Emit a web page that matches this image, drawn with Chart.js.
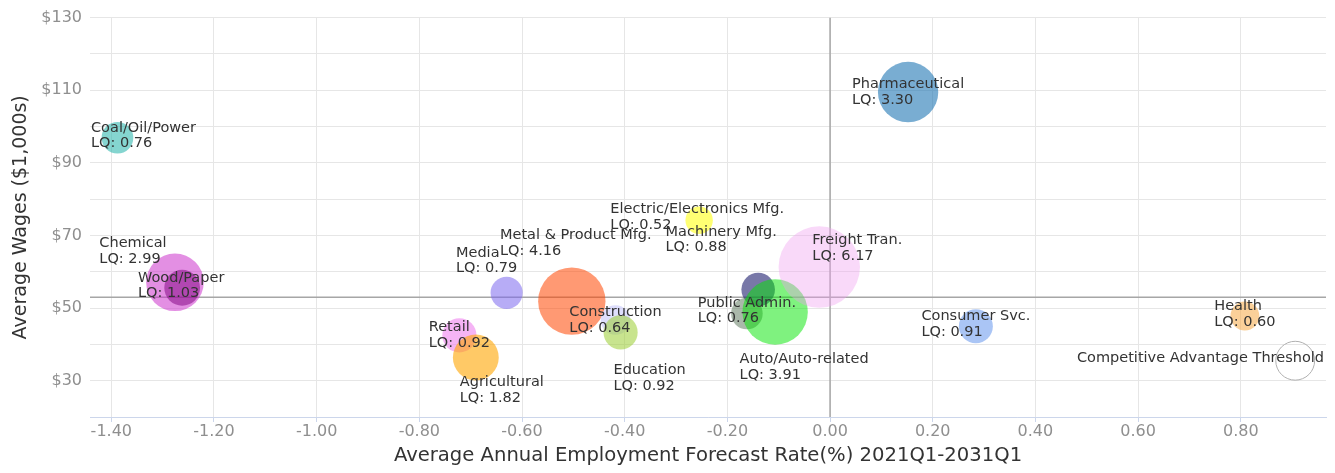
<!DOCTYPE html>
<html>
<head>
<meta charset="utf-8">
<script src="https://cdn.jsdelivr.net/npm/chart.js@4.4.0/dist/chart.umd.min.js"></script>
<style>
    html, body { margin: 0; padding: 0; background: #fff; }
    #wrap { width: 1335px; height: 473px; }
</style>
</head>
<body>
<div id="wrap"><canvas id="bubbleChart"></canvas></div>
<script>
// --- DATA ---
const industries = [
    'Coal/Oil/Power', 'Pharmaceutical', 'Chemical', 'Wood/Paper', 'Retail', 'Agricultural',
    'Media', 'Metal & Product Mfg.', 'Construction', 'Education', 'Electric/Electronics Mfg.',
    'Machinery Mfg.', 'Public Admin.', 'Auto/Auto-related', 'Freight Tran.', 'Consumer Svc.', 'Health'
];
const growthRate = [-1.388, 0.152, -1.276, -1.262, -0.722, -0.690, -0.630, -0.503, -0.418, -0.408, -0.255, -0.140, -0.162, -0.107, -0.021, 0.284, 0.808];
const avgWage = [96.9, 109.5, 57.1, 55.6, 42.5, 36.4, 54.2, 51.9, 46.7, 43.3, 74.2, 55.1, 48.5, 48.9, 61.3, 45.0, 47.8];
const lq = [0.76, 3.30, 2.99, 1.03, 0.92, 1.82, 0.79, 4.16, 0.64, 0.92, 0.52, 0.88, 0.76, 3.91, 6.17, 0.91, 0.60];

// the legend-like "threshold" bubble and the two reference lines
const thresholdName = 'Competitive Advantage Threshold';
const thresholdPoint = { x: 0.906, y: 35.5, z: 1.25 };
const thresholdGrowth = 0;
const thresholdWage = 53.0;

// axes
const xTicks = [-1.4, -1.2, -1.0, -0.8, -0.6, -0.4, -0.2, 0, 0.2, 0.4, 0.6, 0.8];
const yTicks = [30, 50, 70, 90, 110, 130];
const xMin = -1.4415, xMax = 0.966;
const yMin = 20, yMax = 130;

// --- STYLE ---
const bubbleColors = [
    'rgba(32, 178, 170, 0.55)',  // coal
    'rgba(31, 119, 180, 0.6)',   // pharma
    'rgba(204, 51, 204, 0.55)',  // chemical
    'rgba(128, 0, 128, 0.5)',    // wood
    'rgba(238, 130, 238, 0.6)',  // retail
    'rgba(255, 165, 0, 0.6)',    // agricultural
    'rgba(123, 104, 238, 0.55)', // media
    'rgba(255, 69, 0, 0.55)',    // metal
    'rgba(200, 200, 250, 0.6)',  // construction
    'rgba(154, 205, 50, 0.55)',  // education
    'rgba(255, 255, 0, 0.55)',   // electric
    'rgba(30, 30, 110, 0.6)',    // machinery
    'rgba(100, 125, 100, 0.55)', // public admin
    'rgba(0, 230, 0, 0.5)',      // auto
    'rgba(240, 160, 240, 0.4)',  // freight
    'rgba(100, 149, 237, 0.55)', // consumer
    'rgba(245, 170, 70, 0.55)'   // health
];
// pixel nudges for labels that were moved off their bubble
const labelNudge = [
    [0, -2], [0, 0], [-42, -31], [-1, -2], [0, 0], [26, 33], [-20, -32], [4, -58], [0, 0],
    [29, 46], [-2, -3], [-37, -50], [0, -3], [29, 55], [38, -19], [0, -2], [0, -2]
];

const FONT = "'DejaVu Sans', Verdana, sans-serif";
const LABEL_FONT = '14.5px ' + FONT;
const LINE_H = 15.5;

// bubble size by area, like minSize / maxSize
const minR = 13.7, maxR = 40.7;
const zMin = Math.min(...lq), zMax = Math.max(...lq);
function bubbleRadius(z) {
    const pos = (z - zMin) / (zMax - zMin);
    return Math.sqrt(minR * minR + pos * (maxR * maxR - minR * minR));
}

// --- LABEL PLUGIN ---
function drawLabel(ctx, area, lines, cx, cy) {
    const w = Math.max(...lines.map(l => ctx.measureText(l).width));
    let left = cx - w / 2;
    left = Math.max(area.left + 1, Math.min(left, area.right - 2 - w));
    const top = cy - LINE_H * lines.length / 2;
    lines.forEach((l, i) => ctx.fillText(l, left, top + LINE_H * (i + 0.5)));
}

const bubbleLabels = {
    id: 'bubbleLabels',
    afterDatasetsDraw(chart) {
        const { ctx, chartArea } = chart;
        ctx.save();
        ctx.font = LABEL_FONT;
        ctx.fillStyle = '#333333';
        ctx.textAlign = 'left';
        ctx.textBaseline = 'middle';

        chart.getDatasetMeta(0).data.forEach((el, i) => {
            const lines = [industries[i], 'LQ: ' + lq[i].toFixed(2)];
            drawLabel(ctx, chartArea, lines, el.x + labelNudge[i][0], el.y + labelNudge[i][1]);
        });
        const t = chart.getDatasetMeta(1).data[0];
        drawLabel(ctx, chartArea, [thresholdName], t.x, t.y - 2);
        ctx.restore();
    }
};

// --- CHART ---
const industryPoints = industries.map((name, i) => ({
    x: growthRate[i], y: avgWage[i], r: bubbleRadius(lq[i])
}));

new Chart(document.getElementById('bubbleChart'), {
    type: 'bubble',
    data: {
        datasets: [{
            label: 'Industries',
            data: industryPoints,
            backgroundColor: bubbleColors,
            borderWidth: 0,
            order: 1
        }, {
            label: thresholdName,
            data: [{ x: thresholdPoint.x, y: thresholdPoint.y, r: bubbleRadius(thresholdPoint.z) }],
            backgroundColor: 'rgba(255, 255, 255, 0)',
            borderColor: '#b0b0b0',
            borderWidth: 1,
            order: 1
        }, {
            type: 'line',
            label: 'Growth threshold',
            data: [{ x: thresholdGrowth, y: yMin }, { x: thresholdGrowth, y: yMax }],
            borderColor: '#a6a6a6',
            borderWidth: 1.5,
            pointRadius: 0,
            order: 2
        }, {
            type: 'line',
            label: 'Wage threshold',
            data: [{ x: xMin, y: thresholdWage }, { x: xMax, y: thresholdWage }],
            borderColor: '#a6a6a6',
            borderWidth: 1.5,
            pointRadius: 0,
            order: 2
        }]
    },
    options: {
        responsive: true,
        maintainAspectRatio: false,
        animation: false,
        events: [],
        // no extra room for the bubbles' radius, the plot area is fixed
        layout: { autoPadding: false, padding: { top: 16, right: 9, left: 0, bottom: 0 } },
        scales: {
            x: {
                type: 'linear',
                min: xMin,
                max: xMax,
                afterBuildTicks: s => { s.ticks = xTicks.map(v => ({ value: v })); },
                afterFit: s => { s.height = 56; },
                grid: { color: '#e6e6e6', tickColor: '#ccd6eb', tickLength: 5 },
                border: { color: '#ccd6eb', width: 1 },
                ticks: {
                    padding: 0,
                    color: '#8f8f8f',
                    font: { family: FONT, size: 16 },
                    maxRotation: 0,
                    callback: v => v.toFixed(2)
                },
                title: {
                    display: true,
                    text: 'Average Annual Employment Forecast Rate(%) 2021Q1-2031Q1',
                    color: '#333333',
                    font: { family: FONT, size: 19.6 },
                    padding: { top: 0, bottom: 5 }
                }
            },
            y: {
                type: 'linear',
                min: yMin,
                max: yMax,
                afterFit: s => { s.width = 90; },
                grid: { color: '#e6e6e6', drawTicks: false },
                border: { display: false },
                ticks: {
                    stepSize: 10,
                    padding: 8,
                    color: '#8f8f8f',
                    font: { family: FONT, size: 16 },
                    callback: v => yTicks.includes(v) ? '$' + v : ''
                },
                title: {
                    display: true,
                    text: 'Average Wages ($1,000s)',
                    color: '#333333',
                    font: { family: FONT, size: 19 },
                    padding: { top: 10, bottom: 0 }
                }
            }
        },
        plugins: {
            legend: { display: false },
            tooltip: { enabled: false }
        }
    },
    plugins: [bubbleLabels]
});
</script>
</body>
</html>
